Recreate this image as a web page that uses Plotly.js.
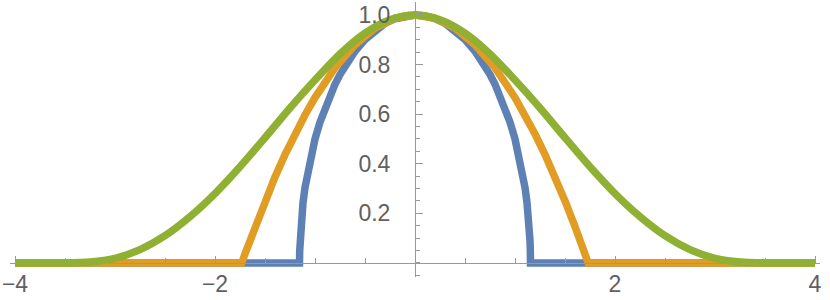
<!DOCTYPE html>
<html>
<head>
<meta charset="utf-8">
<script src="https://cdn.plot.ly/plotly-3.0.1.min.js"></script>
<style>html,body{margin:0;padding:0;background:#fff;}#chart{width:830px;height:300px;}</style>
</head>
<body>
<div id="chart"></div>
<script>
// Blue curve
const blueX = [-4, -1.155, -1.153, -1.15, -1.145, -1.14, -1.13, -1.12, -1.1, -1.075, -1.05, -1.0, -0.95, -0.9, -0.85, -0.8, -0.75, -0.7, -0.6, -0.5, -0.4, -0.3, -0.2, -0.1, 0,
               0.1, 0.2, 0.3, 0.4, 0.5, 0.6, 0.7, 0.75, 0.8, 0.85, 0.9, 0.95, 1.0, 1.05, 1.075, 1.1, 1.12, 1.13, 1.14, 1.145, 1.15, 1.153, 1.155, 4];
const blueY = [0, 0, 0.05, 0.09, 0.128, 0.159, 0.206, 0.243, 0.304, 0.364, 0.416, 0.5, 0.568, 0.626, 0.676, 0.721, 0.760, 0.795, 0.854, 0.901, 0.938, 0.966, 0.985, 0.996, 1,
               0.996, 0.985, 0.966, 0.938, 0.901, 0.854, 0.795, 0.760, 0.721, 0.676, 0.626, 0.568, 0.5, 0.416, 0.364, 0.304, 0.243, 0.206, 0.159, 0.128, 0.09, 0.05, 0, 0];
// Orange curve
const orangeX = [-4, -1.732, -1.7, -1.6, -1.5, -1.4, -1.3, -1.2, -1.1, -1.0, -0.8, -0.6, -0.4, -0.2, 0,
                 0.2, 0.4, 0.6, 0.8, 1.0, 1.1, 1.2, 1.3, 1.4, 1.5, 1.6, 1.7, 1.732, 4];
const orangeY = [0, 0, 0.037, 0.147, 0.25, 0.347, 0.437, 0.52, 0.597, 0.667, 0.787, 0.88, 0.947, 0.987, 1,
                 0.987, 0.947, 0.88, 0.787, 0.667, 0.597, 0.52, 0.437, 0.347, 0.25, 0.147, 0.037, 0, 0];
// Green curve
const greenX = [-4, -3.75, -3.5, -3.25, -3.0, -2.75, -2.5, -2.25, -2.0, -1.75, -1.5, -1.25, -1.0, -0.75, -0.5, -0.25, 0,
                0.25, 0.5, 0.75, 1.0, 1.25, 1.5, 1.75, 2.0, 2.25, 2.5, 2.75, 3.0, 3.25, 3.5, 3.75, 4];
const greenY = [0, 0, 0, 0.004, 0.019, 0.054, 0.110, 0.187, 0.280, 0.388, 0.505, 0.625, 0.738, 0.843, 0.927, 0.981, 1,
                0.981, 0.927, 0.843, 0.738, 0.625, 0.505, 0.388, 0.280, 0.187, 0.110, 0.054, 0.019, 0.004, 0, 0, 0];
// Tick labels
const xTickVals = [-4, -2, 2, 4];
const xTickText = ['\u22124', '\u22122', '2', '4'];
const yTickVals = [0.2, 0.4, 0.6, 0.8, 1.0];
const yTickText = ['0.2', '0.4', '0.6', '0.8', '1.0'];

const traces = [
  {x: blueX, y: blueY, mode: 'lines', line: {color: '#5E81B5', width: 7.5}},
  {x: orangeX, y: orangeY, mode: 'lines', line: {color: '#E19C24', width: 7.5}},
  {x: greenX, y: greenY, mode: 'lines', line: {color: '#8FB032', width: 7.5, shape: 'spline', smoothing: 0.8}}
];

const tickFont = {family: 'Liberation Sans, Arial, sans-serif', size: 23, color: '#606060'};
const layout = {
  width: 830, height: 300,
  margin: {l: 10, r: 10, t: 2, b: 23, pad: 0},
  paper_bgcolor: '#fff', plot_bgcolor: '#fff',
  showlegend: false,
  xaxis: {
    range: [-4.05, 4.05], anchor: 'free', position: 0.0509,
    showgrid: false, zeroline: false, showline: true, linecolor: '#999', linewidth: 1,
    tickmode: 'array', tickvals: xTickVals, ticktext: xTickText,
    ticks: 'inside', ticklen: 7, tickcolor: '#999', tickwidth: 1,
    minor: {dtick: 0.5, tick0: 0, ticks: 'inside', ticklen: 5, tickcolor: '#999', tickwidth: 1, showgrid: false},
    tickfont: tickFont, ticklabelstandoff: 0, fixedrange: true
  },
  yaxis: {
    range: [-0.0565, 1.0524], anchor: 'free', position: 0.5,
    showgrid: false, zeroline: false, showline: true, linecolor: '#999', linewidth: 1,
    tickmode: 'array', tickvals: yTickVals, ticktext: yTickText,
    ticks: 'inside', ticklen: 7, tickcolor: '#999', tickwidth: 1,
    minor: {dtick: 0.05, tick0: 0, ticks: 'inside', ticklen: 4, tickcolor: '#999', tickwidth: 1, showgrid: false},
    tickfont: tickFont, ticklabelstandoff: 20, fixedrange: true
  }
};
Plotly.newPlot('chart', traces, layout, {staticPlot: true, displayModeBar: false});
</script>
</body>
</html>
